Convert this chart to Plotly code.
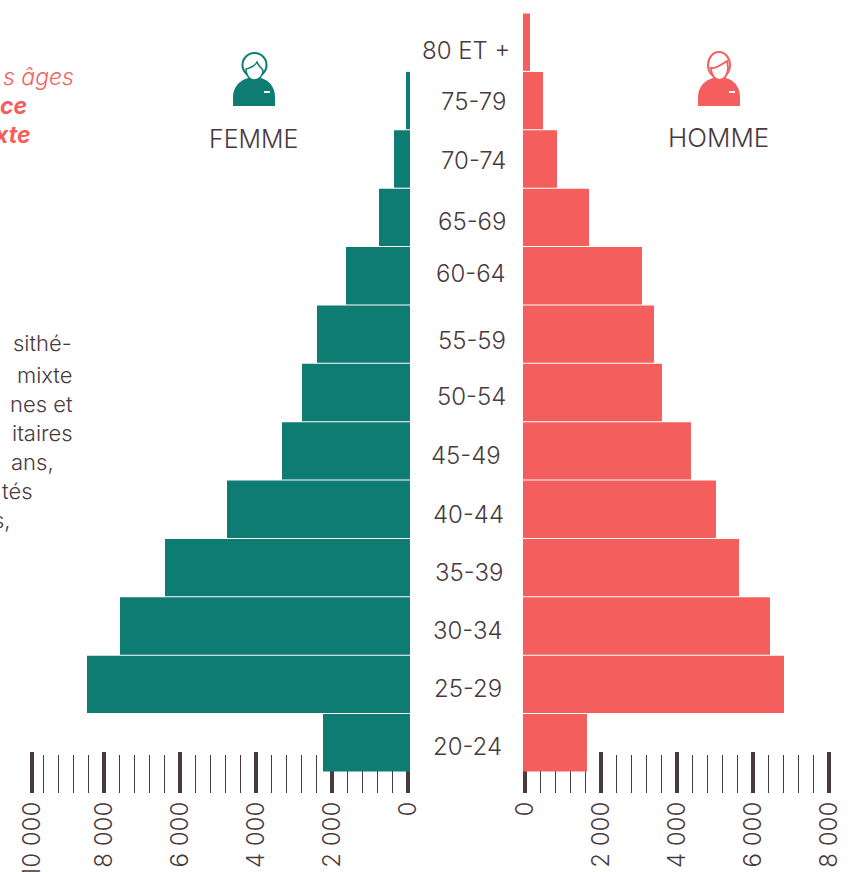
import plotly.graph_objects as go

W, H = 850, 872
FONT = "Inter"
INK = "#4a3a40"
TEAL = "#0f7c73"
CORAL = "#f45f5e"

# Data (bottom to top)
age_groups = ["20-24", "25-29", "30-34", "35-39", "40-44", "45-49", "50-54",
              "55-59", "60-64", "65-69", "70-74", "75-79", "80 ET +"]
femme = [2237, 8447, 7579, 6395, 4763, 3316, 2789, 2395, 1632, 763, 368, 53, None]
homme = [1632, 6816, 6447, 5632, 5026, 4368, 3605, 3395, 3079, 1684, 842, 474, 132]
major_ticks_f = [0, 2000, 4000, 6000, 8000, 9895]
major_labels_f = ["0", "2 000", "4 000", "6 000", "8 000", "10 000"]
major_ticks_h = [0, 2000, 4000, 6000, 8000]
major_labels_h = ["0", "2 000", "4 000", "6 000", "8 000"]
minor_ticks_f = [v for v in range(400, 9700, 400) if v % 2000]
minor_ticks_h = [v for v in range(400, 8000, 400) if v % 2000]

PX = 0.038          # pixels per person
GAP = 2 / PX        # the bars start slightly off the zero tick


def fx(x):
    return x / W


def fy(y):
    return 1 - y / H


def vx(x):
    """Page x pixel -> value on the left (reversed) axis; such annotations never push the margins."""
    return (408 - x) / PX


def P(path):
    """Path given in page pixels -> paper coordinates."""
    out, is_x = [], True
    for tok in path.split():
        if tok.isalpha():
            out.append(tok)
            is_x = True
        else:
            out.append(f"{fx(float(tok)) if is_x else fy(float(tok)):.5f}")
            is_x = not is_x
    return " ".join(out)


fig = go.Figure()
common = dict(orientation="h", y=age_groups, width=1 - 1 / 58.4, hoverinfo="y+text")
fig.add_trace(go.Bar(x=[None if v is None else v + GAP for v in femme], base=-GAP,
                     marker=dict(color=TEAL, line_width=0),
                     name="FEMME", text=femme, textposition="none", xaxis="x", yaxis="y", **common))
fig.add_trace(go.Bar(x=[v + GAP for v in homme], base=-GAP, marker=dict(color=CORAL, line_width=0),
                     name="HOMME", text=homme, textposition="none", xaxis="x2", yaxis="y2", **common))


def axis(dom, rng, vals, labels, minors, anchor):
    return dict(domain=dom, range=rng, anchor=anchor, showgrid=False, zeroline=False, showline=False,
                layer="below traces", side="bottom", tickmode="array", tickvals=vals, ticktext=labels,
                ticks="inside", ticklen=41, tickwidth=4, tickcolor=INK, tickangle=-90, automargin=False,
                tickfont=dict(family=FONT, size=24, color=INK, weight=300), ticklabelstandoff=3,
                minor=dict(tickmode="array", tickvals=minors, ticks="inside", ticklen=38,
                           tickwidth=1, tickcolor=INK, showgrid=False))


yax = dict(type="category", categoryorder="array", categoryarray=age_groups,
           domain=[fy(793), fy(13)], range=[-0.5 - 21 / 58.4, 12.5], visible=False, fixedrange=True)

# Axis-label page positions: (right edge px, centre y px)
label_pos = [(504, 746), (504, 688), (505, 630), (505, 572), (506, 514), (503, 455), (508, 396),
             (508, 340), (508, 273), (508, 222), (508, 161), (508, 101), (512, 50)]
ann = []
for name, (x, y) in zip(age_groups, label_pos):
    ann.append(dict(text=name, x=fx(x), y=fy(y), xref="paper", yref="paper",
                    xanchor="right", yanchor="middle", showarrow=False,
                    font=dict(family=FONT, size=24, color=INK, weight=300)))

ann += [dict(text="FEMME", x=fx(254), y=fy(139), xref="paper", yref="paper", xanchor="center", yanchor="middle",
             showarrow=False, font=dict(family=FONT, size=25, color=INK, weight=300)),
        dict(text="HOMME", x=fx(718), y=fy(137), xref="paper", yref="paper", xanchor="center", yanchor="middle",
             showarrow=False, font=dict(family=FONT, size=26, color=INK, weight=300))]

# Cropped intro text fragments at the left edge of the page
for t, x, y, st in [("s âges", 76, 77, "i"), ("ce", 29, 106, "b"), ("xte", 32, 135, "b")]:
    txt = f"<i>{t}</i>" if st == "i" else f"<b><i>{t}</i></b>"
    ann.append(dict(text=txt, x=vx(x), y=fy(y), xref="x", yref="paper", xanchor="right", yanchor="middle",
                    showarrow=False, font=dict(family=FONT, size=23, color=CORAL, weight=300 if st == "i" else 800)))
for t, x, y in [("sithé-", 74, 343), ("mixte", 75, 375), ("nes et", 75, 404), ("itaires", 75, 433),
                ("ans,", 56, 462), ("tés", 35, 491), ("s,", 13, 520)]:
    ann.append(dict(text=t, x=vx(x), y=fy(y), xref="x", yref="paper", xanchor="right", yanchor="middle",
                    showarrow=False, font=dict(family=FONT, size=22, color=INK, weight=300)))


def circle(cx, cy, rx, ry, **kw):
    return dict(type="circle", xref="paper", yref="paper", x0=fx(cx - rx), x1=fx(cx + rx),
                y0=fy(cy + ry), y1=fy(cy - ry), **kw)


def path(d, **kw):
    return dict(type="path", xref="paper", yref="paper", path=P(d), **kw)


def body(dx, color):
    return path(f"M {233+dx} 106 L {233+dx} 97 C {233+dx} 86 {241+dx} 80 {248+dx} 78 L {261+dx} 78 "
                f"C {268+dx} 80 {275+dx} 86 {275+dx} 97 L {275+dx} 106 Z",
                fillcolor=color, line=dict(width=0))


shapes = [
    # woman
    circle(254.5, 65, 12, 12, line=dict(color=TEAL, width=2), fillcolor="white"),
    body(0, TEAL),
    path("M 246 69 C 250 68 255 66 257 62 C 258 65 261 68 263 70 C 263 76 259 80 254.5 80 "
         "C 250 80 246 76 246 69 Z", fillcolor="white", line=dict(color=TEAL, width=1.5)),
    path("M 264 91 L 270 91 L 270 93 L 264 93 Z", fillcolor="white", line=dict(width=0)),
    # man
    circle(719, 65, 11, 13, line=dict(color=CORAL, width=2), fillcolor="white"),
    body(465, CORAL),
    path("M 711 68 C 716 69 722 64 727 61 L 728 68 C 728 75 724 80 719.5 80 C 715 80 711 75 711 68 Z",
         fillcolor="white", line=dict(color=CORAL, width=1.8)),
    path("M 729 91 L 735 91 L 735 93 L 729 93 Z", fillcolor="white", line=dict(width=0)),
]

fig.update_layout(
    width=W, height=H, autosize=False, margin=dict(l=0, r=0, t=0, b=0), showlegend=False,
    paper_bgcolor="white", plot_bgcolor="rgba(0,0,0,0)", barmode="overlay",
    xaxis=axis([0, fx(410)], [408 / PX, -GAP], major_ticks_f, major_labels_f, minor_ticks_f, "y"),
    xaxis2=axis([fx(523), 1], [-GAP, 325 / PX], major_ticks_h, major_labels_h, minor_ticks_h, "y2"),
    yaxis=yax, yaxis2=dict(yax, anchor="x2"), annotations=ann, shapes=shapes,
)
fig.write_html("out.html", config=dict(displayModeBar=False),
               post_script="document.body.style.margin='0';document.body.style.overflow='hidden';")
